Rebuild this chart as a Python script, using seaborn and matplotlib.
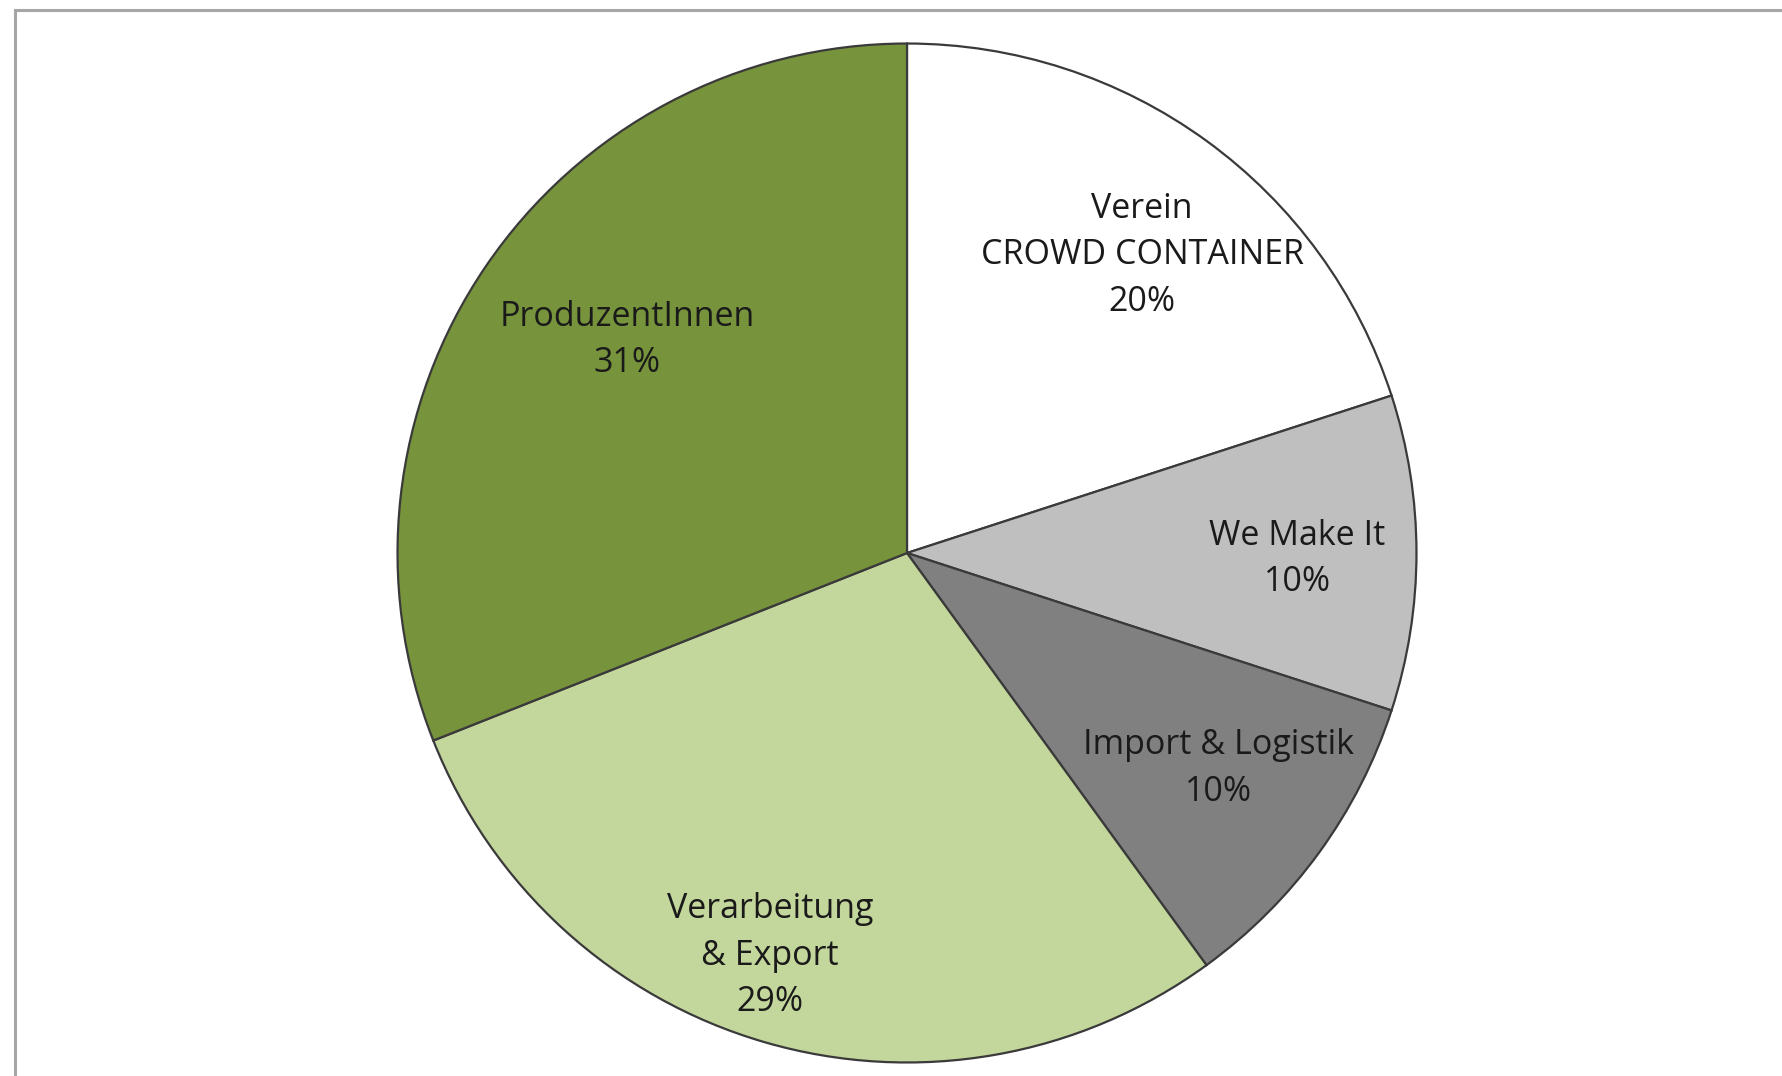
import matplotlib
matplotlib.use("Agg")
import matplotlib.pyplot as plt
import seaborn as sns
import numpy as np
from matplotlib.patches import Rectangle

categories = ["Verein\nCROWD CONTAINER", "We Make It", "Import & Logistik",
              "Verarbeitung\n& Export", "ProduzentInnen"]
values = [20, 10, 10, 29, 31]
pct_labels = ["20%", "10%", "10%", "29%", "31%"]
colors = ["#FFFFFF", "#BFBFBF", "#808080", "#C3D69B", "#77933C"]
label_dist = [0.745, 0.766, 0.743, 0.835, 0.690]
label_ang_off = [-2.3, -0.9, 1.3, -2.6, -3.1]

sns.set_theme(style="white")
plt.rcParams['font.family'] = ['Open Sans', 'DejaVu Sans']

W, H = 1783, 1076
fig = plt.figure(figsize=(W / 100, H / 100), dpi=100)
cx, cy, r = 907, 553, 511
ax = fig.add_axes([(cx - r) / W, (H - cy - r) / H, 2 * r / W, 2 * r / H])

wedges, _ = ax.pie(values, colors=colors, startangle=90, counterclock=False,
                   wedgeprops=dict(edgecolor="#3a3a3a", linewidth=1.6))
ax.set_xlim(-1.003, 1.003)
ax.set_ylim(-1.003, 1.003)
ax.set_aspect("equal")
ax.axis("off")

for w, cat, pct, d, off in zip(wedges, categories, pct_labels, label_dist, label_ang_off):
    ang = np.deg2rad((w.theta1 + w.theta2) / 2 + off)
    ax.text(d * np.cos(ang), d * np.sin(ang), f"{cat}\n{pct}", ha="center", va="center",
            fontsize=24.5, color="#1a1a1a", linespacing=1.48, fontweight="medium")

fig.patches.append(Rectangle((15 / W, -0.1), 1.2, 1 - 10 / H + 0.1, transform=fig.transFigure,
                             fill=False, edgecolor="#a6a6a6", linewidth=2.2, figure=fig))

fig.savefig("out.png", dpi=100)
